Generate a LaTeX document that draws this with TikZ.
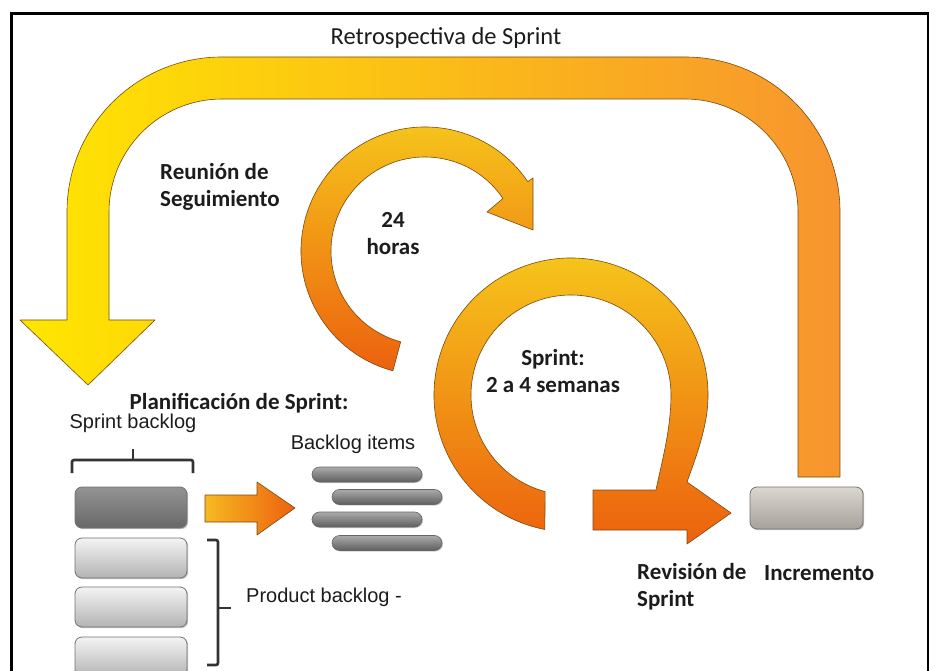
\documentclass[tikz,border=0pt]{standalone}
\usepackage{fontspec}
\setmainfont{Carlito}
\newfontfamily\arialfont{Liberation Sans}
\usetikzlibrary{shadows}

\definecolor{inkblack}{HTML}{1C1C1C}
\definecolor{archyellow}{HTML}{FFE600}
\definecolor{archorange}{HTML}{F7952E}
\definecolor{loopyellow}{HTML}{F6C81C}
\definecolor{looporange}{HTML}{EC610E}
\definecolor{edgebrown}{HTML}{7A4A10}
\definecolor{boxtop}{HTML}{F4F4F4}
\definecolor{boxbot}{HTML}{B3B3B3}
\definecolor{darktop}{HTML}{939393}
\definecolor{darkbot}{HTML}{686868}
\definecolor{itemtop}{HTML}{ABABAB}
\definecolor{itembot}{HTML}{5E5E5E}
\definecolor{incrtop}{HTML}{DCD6D1}
\definecolor{incrbot}{HTML}{A7A19C}

\tikzset{
  lbl/.style={font=\fontsize{23}{27}\selectfont\bfseries, text=inkblack, align=center, inner sep=0pt},
  albl/.style={font=\arialfont\fontsize{20}{24}\selectfont, text=inkblack, inner sep=0pt},
  band/.style={draw=edgebrown, line width=0.6pt, line join=round},
  pbox/.style={rectangle, rounded corners=7pt, minimum width=112pt, minimum height=40pt,
    draw=black!55, line width=0.8pt, top color=boxtop, bottom color=boxbot,
    drop shadow={shadow xshift=1.2pt, shadow yshift=-1.2pt, opacity=0.45}},
  itembar/.style={rectangle, rounded corners=7.5pt, minimum width=110pt, minimum height=15pt,
    draw=black!60, line width=0.6pt, top color=itemtop, bottom color=itembot,
    drop shadow={shadow xshift=1pt, shadow yshift=-1pt, opacity=0.4}},
  brace/.style={draw=black!80, line width=2.6pt, rounded corners=2pt}
}

\begin{document}
\begin{tikzpicture}[x=1pt,y=1pt]
\clip (0,0) rectangle (937,670);
\fill[white] (0,0) rectangle (937,670);

\draw[band, left color=archyellow, right color=archorange]
  (798,193) -- (840,193) -- (840,458) arc[start angle=0,end angle=90,radius=155]
  -- (222,613) arc[start angle=90,end angle=180,radius=155]
  -- (67,350) -- (20,350) -- (88,285) -- (155,350) -- (109,350)
  -- (109,458) arc[start angle=180,end angle=90,radius=113]
  -- (685,571) arc[start angle=90,end angle=0,radius=113] -- cycle;

\coordinate (c24) at (425,419);
\draw[band, top color=loopyellow, bottom color=looporange]
  ([shift={(255:124)}]c24) arc[start angle=255,end angle=34,radius=124]
  -- (533,492) -- (533,440) -- (487,458)
  -- ([shift={(34:94)}]c24) arc[start angle=34,end angle=255,radius=94] -- cycle;

\coordinate (csp) at (571,275);
\draw[band, top color=loopyellow, bottom color=looporange]
  ([shift={(259:137)}]csp) arc[start angle=259,end angle=-10,radius=137]
  .. controls (701.6,226.6) and (693,205) .. (687,188)
  -- (731,157) -- (687,126) -- (687,140)
  -- (593,140) -- (593,180) -- (656,180)
  .. controls (661,205) and (671,240) .. ([shift={(0:100)}]csp)
  arc[start angle=0,end angle=255,radius=100] -- cycle;

\draw[band, left color=loopyellow!70!archorange, right color=looporange]
  (205,148) -- (257,148) -- (257,135) -- (295,162) -- (257,188) -- (257,175) -- (205,175) -- cycle;

\node[pbox, top color=darktop, bottom color=darkbot, minimum height=41pt] (sb) at (131,162.5) {};
\node[pbox] (pb1) at (131,112) {};
\node[pbox] (pb2) at (131,63) {};
\node[pbox] (pb3) at (131,13) {};

\node[itembar] (it1) at (367,195.5) {};
\node[itembar] (it2) at (387,173) {};
\node[itembar] (it3) at (367,150.5) {};
\node[itembar] (it4) at (387,127) {};

\node[pbox, top color=incrtop, bottom color=incrbot, minimum width=113pt, minimum height=42pt] (inc) at (806.5,162) {};

\draw[brace] (72,197) -- (72,210) -- (193,210) -- (193,197);
\draw[brace] (133,210) -- (133,221);
\draw[brace] (207,130) -- (218,130) -- (218,5) -- (207,5);
\draw[brace] (218,62) -- (231,62);

\node[lbl, font=\fontsize{24.5}{28}\selectfont] (retro) at (446,632) {Retrospectiva de Sprint};
\node[lbl, align=left, anchor=west] (reunion) at (160,483.5) {Reunión de\\Seguimiento};
\node[lbl] (horas) at (393,436) {24\\horas};
\node[lbl] (sprint) at (553,298.5) {Sprint:\\2 a 4 semanas};
\node[lbl] (plan) at (239,267) {Planificación de Sprint:};
\node[albl] (sbl) at (133,247) {Sprint backlog};
\node[albl] (items) at (353,226) {Backlog items};
\node[albl, anchor=west] (pbl) at (246,73) {Product backlog -};
\node[lbl, align=left, anchor=west] (revision) at (637,83.5) {Revisión de\\Sprint};
\node[lbl, anchor=west] (incr) at (764,97) {Incremento};

\draw[line width=2.5pt] (11.3,-5) -- (11.3,656.5) -- (928,656.5) -- (928,-5);
\end{tikzpicture}
\end{document}
